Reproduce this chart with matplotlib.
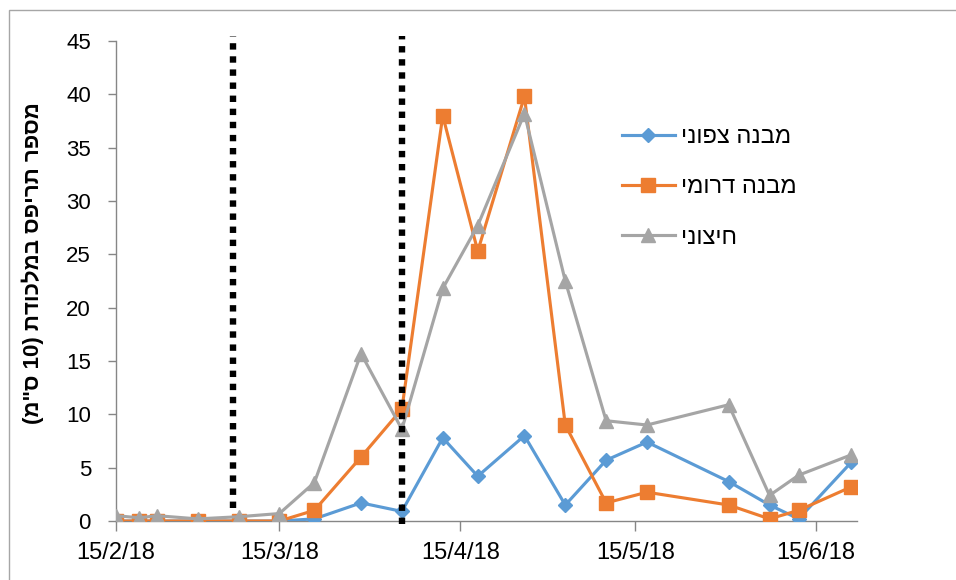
import matplotlib
matplotlib.use("Agg")
import matplotlib.pyplot as plt
import pandas as pd
from matplotlib.patches import Rectangle

# dates of the samples (day/month/2018)
dates = ["2018-02-15", "2018-02-19", "2018-02-22", "2018-03-01", "2018-03-08",
         "2018-03-15", "2018-03-21", "2018-03-29", "2018-04-05", "2018-04-12",
         "2018-04-18", "2018-04-26", "2018-05-03", "2018-05-10", "2018-05-17",
         "2018-05-31", "2018-06-07", "2018-06-12", "2018-06-21"]

north = [0, 0, 0, 0, 0, 0, 0.2, 1.7, 0.9, 7.8, 4.2, 8.0, 1.5, 5.7, 7.4, 3.7, 1.5, 0.2, 5.5]
south = [0, 0, 0, 0, 0, 0, 1.0, 6.0, 10.5, 38.0, 25.3, 39.8, 9.0, 1.7, 2.7, 1.5, 0.2, 1.0, 3.2]
outside = [0.5, 0.3, 0.5, 0.2, 0.4, 0.7, 3.6, 15.7, 8.6, 21.8, 27.7, 38.2, 22.5, 9.4, 9.0, 10.9, 2.4, 4.3, 6.2]

# hebrew labels, written in visual (left to right) order
series_labels = ["ינופצ הנבמ", "ימורד הנבמ", "ינוציח"]
y_label = '(מ"ס 10) תדוכלמב ספירת רפסמ'

tick_dates = ["2018-02-15", "2018-03-15", "2018-04-15", "2018-05-15", "2018-06-15"]
tick_labels = ["15/2/18", "15/3/18", "15/4/18", "15/5/18", "15/6/18"]

# dotted marker lines
event_dates = ["2018-03-07", "2018-04-05"]
event_bottoms = [1.2, -0.3]

plt.rcParams['font.family'] = ['Liberation Sans', 'DejaVu Sans']

x = pd.to_datetime(dates)

fig = plt.figure(figsize=(9.56, 5.8), dpi=100)
ax = fig.add_axes([0.1213, 0.1017, 0.7752, 0.8276])

# outer frame (only left/top edge visible in the crop)
fig.patches.append(Rectangle((9 / 956, -0.05), 1.0, 1.05 - 10 / 580,
                             transform=fig.transFigure, fill=False,
                             edgecolor='#A6A6A6', lw=1.0))

grey_axis = '#868686'
ax.plot(x, north, color='#5B9BD5', lw=2.25, marker='D', ms=7.5, label=series_labels[0], zorder=3)
ax.plot(x, south, color='#ED7D31', lw=2.25, marker='s', ms=10, label=series_labels[1], zorder=3)
ax.plot(x, outside, color='#A5A5A5', lw=2.25, marker='^', ms=10.5, label=series_labels[2], zorder=3)

for d, b in zip(event_dates, event_bottoms):
    ax.plot([pd.Timestamp(d)] * 2, [b, 45.5], color='black', lw=4.6,
            linestyle=(0, (1.0, 1.05)), clip_on=False, zorder=4)

ax.set_xlim(pd.Timestamp("2018-02-15"), pd.Timestamp("2018-06-22"))
ax.set_ylim(0, 45)
ax.set_yticks(range(0, 50, 5))
ax.set_xticks(pd.to_datetime(tick_dates))
ax.set_xticklabels(tick_labels)

for s in ['top', 'right']:
    ax.spines[s].set_visible(False)
for s in ['left', 'bottom']:
    ax.spines[s].set_color(grey_axis)
    ax.spines[s].set_linewidth(1.0)

ax.tick_params(axis='y', direction='out', length=6, width=1, color=grey_axis,
               pad=12, labelsize=16)
ax.tick_params(axis='x', direction='out', length=7, width=1, color=grey_axis,
               pad=8, labelsize=17)

ax.set_ylabel(y_label, fontsize=16, fontweight='bold')
ax.yaxis.set_label_coords(-0.097, 0.5375)

leg = ax.legend(loc='upper left', bbox_to_anchor=(0.654, 0.8675), frameon=False,
                fontsize=17, handlelength=2.25, labelspacing=1.2, handletextpad=0.25)

fig.savefig("out.png", dpi=100)
